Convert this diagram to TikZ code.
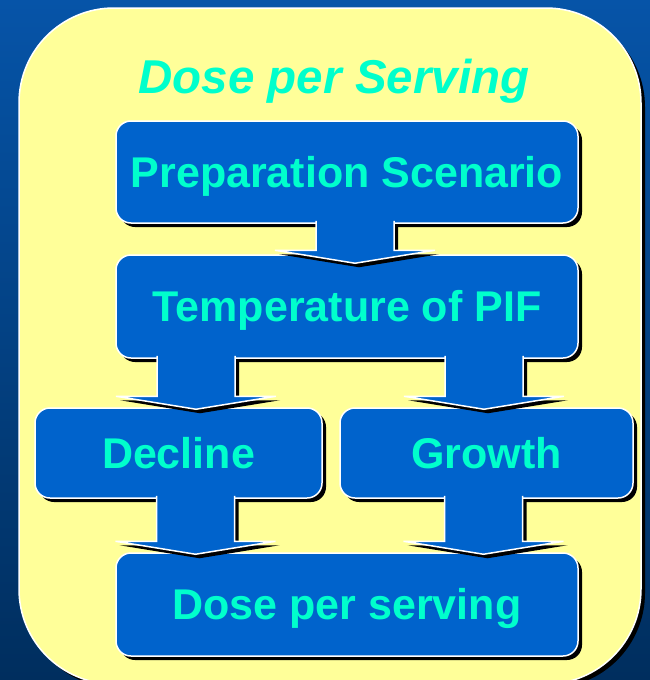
\documentclass[tikz,border=0pt]{standalone}
\usepackage{fontspec}
\setmainfont{Liberation Sans}
\usetikzlibrary{calc,shadows}
\definecolor{bgtop}{RGB}{6,84,168}
\definecolor{bgbot}{RGB}{0,46,94}
\definecolor{paleyellow}{RGB}{255,255,153}
\definecolor{boxblue}{RGB}{0,99,204}
\definecolor{aqua}{RGB}{0,255,204}
\newcommand\blockarrow[2]{%
  \fill[black,transform canvas={shift={(4pt,-4pt)}}] ($(#1)+(-39,0)$) -- ($(#2)+(-39,-13)$) -- ($(#2)+(-80,-13)$) -- (#2) -- ($(#2)+(80,-13)$) -- ($(#2)+(39,-13)$) -- ($(#1)+(39,0)$) -- cycle;
  \fill[boxblue] ($(#1)+(-39,0)$) -- ($(#2)+(-39,-13)$) -- ($(#2)+(-80,-13)$) -- (#2) -- ($(#2)+(80,-13)$) -- ($(#2)+(39,-13)$) -- ($(#1)+(39,0)$) -- cycle;
  \draw[arrowline] ($(#1)+(-39,0)$) -- ($(#2)+(-39,-13)$) -- ($(#2)+(-80,-13)$) -- (#2) -- ($(#2)+(80,-13)$) -- ($(#2)+(39,-13)$) -- ($(#1)+(39,0)$);
}
\tikzset{
  sharpshadow/.style={general shadow={fill=black, shadow xshift=4pt, shadow yshift=-4pt}},
  framebox/.style={rectangle, rounded corners=95pt, fill=paleyellow, draw=white, line width=1.5pt, sharpshadow, inner sep=0pt},
  flowbox/.style={rectangle, rounded corners=15pt, fill=boxblue, draw=white, line width=1.5pt, sharpshadow,
    text=aqua, font=\fontsize{43}{43}\selectfont\bfseries, inner sep=0pt, text height=30.5pt, text depth=0pt},
  titletext/.style={text=aqua, font=\fontsize{47.5}{47.5}\selectfont\bfseries\itshape, inner sep=0pt},
  arrowline/.style={draw=white, line width=1.5pt, line join=miter}
}
\begin{document}
\begin{tikzpicture}[x=1pt,y=-1pt]
\useasboundingbox (0,0) rectangle (650,680);
\shade[top color=bgtop, bottom color=bgbot] (0,0) rectangle (650,680);
\node[framebox, minimum width=622pt, minimum height=676pt] (frame) at (330,346) {};
\node[titletext, anchor=base] (title) at (334,93) {Dose per Serving};
\node[flowbox, minimum width=462pt, minimum height=102pt] (b1) at (347,172) {Preparation Scenario};
\node[flowbox, minimum width=462pt, minimum height=103pt] (b2) at (347,306.5) {Temperature of PIF};
\node[flowbox, minimum width=287pt, minimum height=90pt] (b3) at (178.5,453) {Decline};
\node[flowbox, minimum width=293pt, minimum height=90pt] (b4) at (486.5,453) {Growth};
\node[flowbox, minimum width=462pt, minimum height=103pt] (b5) at (347,604.5) {Dose per serving};
\coordinate (a1s) at ($(b1.south)+(8,-3)$);
\coordinate (a1e) at ($(a1s |- b2.north)+(0,9)$);
\coordinate (a2s) at ($(b2.south)+(-151,-3)$);
\coordinate (a2e) at ($(a2s |- b3.north)+(0,2)$);
\coordinate (a3s) at ($(b2.south)+(137,-3)$);
\coordinate (a3e) at ($(a3s |- b4.north)+(0,2)$);
\coordinate (a4s) at ($(b3.south)+(17,-3)$);
\coordinate (a4e) at ($(a4s |- b5.north)+(0,2)$);
\coordinate (a5s) at ($(b4.south)+(-3,-3)$);
\coordinate (a5e) at ($(a5s |- b5.north)+(0,2)$);
\blockarrow{a1s}{a1e}
\blockarrow{a2s}{a2e}
\blockarrow{a3s}{a3e}
\blockarrow{a4s}{a4e}
\blockarrow{a5s}{a5e}
\end{tikzpicture}
\end{document}
